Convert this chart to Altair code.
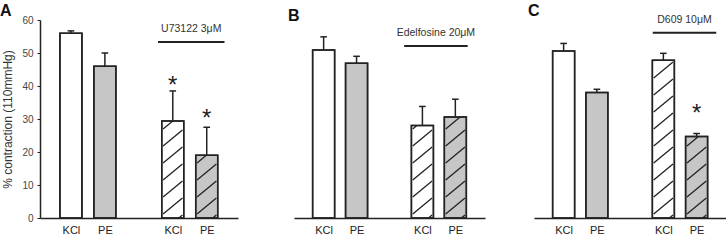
import altair as alt
import pandas as pd

# ---------------- data ----------------
panel_letters = ["A", "B", "C"]
agonists = ["KCl", "PE", "KCl", "PE"]
positions = [1, 2, 4, 5]
with_drug = [False, False, True, True]

means_A = [56.0, 46.0, 29.4, 19.0]
sem_A = [0.7, 4.0, 9.1, 8.5]
means_B = [50.9, 46.9, 28.0, 30.6]
sem_B = [4.0, 2.1, 5.8, 5.4]
means_C = [50.6, 38.0, 47.8, 24.7]
sem_C = [2.3, 1.0, 2.1, 0.9]

star_A = [None, None, 42.1, 32.1]
star_B = [None, None, None, None]
star_C = [None, None, None, 33.6]

drugs = ["U73122 3\u03bcM", "Edelfosine 20\u03bcM", "D609 10\u03bcM"]
drug_x0 = [3.565, 3.446, 3.681]
drug_x1 = [5.523, 5.374, 5.591]
drug_y = [53.3, 52.1, 56.1]

y_ticks = [0, 10, 20, 30, 40, 50, 60]

# ---------------- layout ----------------
widths = [198, 191, 192]
x_domains = [(0.236, 5.774), (0.252, 5.749), (0.259, 5.734)]
HEIGHT = 198
Y_MAX = 60
FONT = "Liberation Sans"
INK = "#222222"
GRAY = "#c6c6c6"
BAR_PX = 22

label_expr = " : ".join(
    f"datum.value == {p} ? '{a}'" for p, a in zip(positions, agonists)
) + " : ''"


def hatch_segments(pos, top, ux, uy):
    half = (BAR_PX / 2 - 0.8) / ux
    xl, xr = pos - half, pos + half
    rise = 16.0 / uy
    gap = 17.0 / uy
    segs = []
    y0 = -rise + 3.0 / uy
    while y0 < top:
        tlo = max(0.0, (0.0 - y0) / rise)
        thi = min(1.0, (top - y0) / rise)
        if thi > tlo:
            segs.append(dict(hx=xl + tlo * (xr - xl), hx2=xl + thi * (xr - xl),
                             hy=y0 + rise * tlo, hy2=y0 + rise * thi))
        y0 += gap
    return segs


def panel(i, means, sems, stars, yaxis):
    dom = x_domains[i]
    w = widths[i]
    ux = w / (dom[1] - dom[0])
    uy = HEIGHT / Y_MAX
    cap = 3.5 / ux
    df = pd.DataFrame({
        "pos": positions, "agonist": agonists, "value": means,
        "hi": [m + s for m, s in zip(means, sems)],
    })
    df["c0"] = df["pos"] - cap
    df["c1"] = df["pos"] + cap
    segs = []
    for p, m, d in zip(positions, means, with_drug):
        if d:
            segs += hatch_segments(p, m, ux, uy)
    hdf = pd.DataFrame(segs)
    sdf = pd.DataFrame([{"pos": p, "star": s} for p, s in zip(positions, stars) if s is not None])
    ddf = pd.DataFrame({"x0": [drug_x0[i]], "x1": [drug_x1[i]], "y": [drug_y[i]],
                        "xm": [(drug_x0[i] + drug_x1[i]) / 2], "label": [drugs[i]]})

    xs = alt.Scale(domain=list(dom), nice=False, zero=False)
    ys = alt.Scale(domain=[0, Y_MAX], nice=False, zero=True)

    xaxis = alt.Axis(values=positions, labelExpr=label_expr, ticks=False, grid=False,
                     domainColor=INK, domainWidth=1.5, labelFontSize=11, labelPadding=6,
                     labelColor="#222", title=None, labelFlush=False, labelFont=FONT)
    if yaxis:
        yax = alt.Axis(values=y_ticks, title="% contraction (110mmHg)", tickSize=3,
                       labelPadding=4, titlePadding=7, grid=False, domainColor=INK,
                       tickColor=INK, domainWidth=1.5, labelFontSize=10, titleFontSize=12,
                       titleFontWeight="normal", labelColor="#444", titleColor="#333",
                       labelFont=FONT, titleFont=FONT)
    else:
        yax = None

    def X(f):
        return alt.X(f, scale=xs, axis=xaxis)

    def Y(f):
        return alt.Y(f, scale=ys, axis=yax)

    bars = alt.Chart(df).mark_bar(size=BAR_PX, stroke=INK, strokeWidth=1.5).encode(
        x=X("pos:Q"), y=Y("value:Q"),
        fill=alt.Fill("agonist:N", scale=alt.Scale(domain=["KCl", "PE"], range=["#ffffff", GRAY]),
                      legend=None),
    )
    hatch = alt.Chart(hdf).mark_rule(color=INK, strokeWidth=1.3).encode(
        x=X("hx:Q"), x2="hx2:Q", y=Y("hy:Q"), y2="hy2:Q",
    )
    outline = alt.Chart(df).mark_bar(size=BAR_PX, stroke=INK, strokeWidth=1.5, fillOpacity=0).encode(
        x=X("pos:Q"), y=Y("value:Q"),
    )
    err = alt.Chart(df).mark_rule(color=INK, strokeWidth=1.5).encode(
        x=X("pos:Q"), y=Y("value:Q"), y2="hi:Q",
    )
    caps = alt.Chart(df).mark_rule(color=INK, strokeWidth=1.5).encode(
        x=X("c0:Q"), x2="c1:Q", y=Y("hi:Q"),
    )
    dline = alt.Chart(ddf).mark_rule(color=INK, strokeWidth=2).encode(
        x=X("x0:Q"), x2="x1:Q", y=Y("y:Q"),
    )
    dtext = alt.Chart(ddf).mark_text(dy=-13, fontSize=10.5, baseline="middle", font=FONT,
                                     color="#333").encode(
        x=X("xm:Q"), y=Y("y:Q"), text="label:N",
    )
    layers = [bars, hatch, outline, err, caps, dline, dtext]
    if len(sdf):
        stars_l = alt.Chart(sdf).mark_text(text="*", fontSize=24, baseline="alphabetic", dy=14,
                                           font=FONT, color=INK).encode(
            x=X("pos:Q"), y=Y("star:Q"),
        )
        layers.append(stars_l)
    dx = -40 if yaxis else -6
    return alt.layer(*layers).properties(
        width=w, height=HEIGHT,
        title=alt.TitleParams(text=panel_letters[i], anchor="start", frame="group", dx=dx,
                              dy=7, fontSize=16, fontWeight="bold", font=FONT, color="#111",
                              offset=3),
    )


pA = panel(0, means_A, sem_A, star_A, True)
pB = panel(1, means_B, sem_B, star_B, False)
pC = panel(2, means_C, sem_C, star_C, False)

chart = alt.hconcat(
    pA,
    alt.hconcat(pB, pC, spacing=49, bounds="flush"),
    spacing=56, bounds="flush",
).properties(
    padding={"left": 0, "top": 2, "right": 0, "bottom": 0}
).configure(font=FONT).configure_view(stroke=None)

chart.save("out.html", embed_options={"renderer": "svg", "actions": False})
